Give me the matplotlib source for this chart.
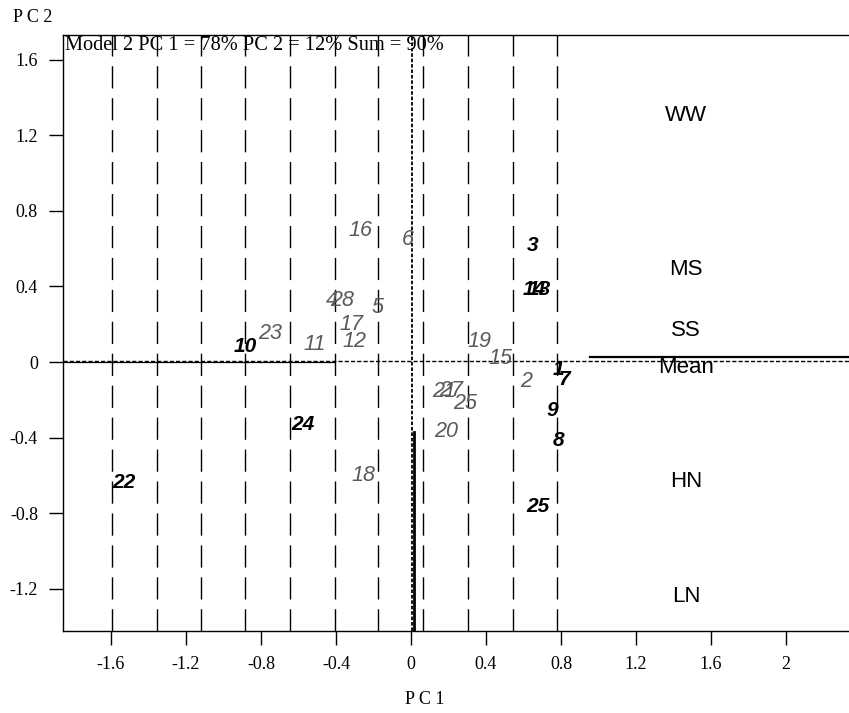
import matplotlib
matplotlib.use('Agg')
import matplotlib.pyplot as plt

# Genotype labels (grey italic group)
gray_labels = ['16', '6', '4', '28', '5', '23', '17', '12', '11',
               '19', '15', '2', '21', '27', '25', '20', '18']
gray_x = [-0.268, -0.019, -0.421, -0.368, -0.179, -0.752, -0.316, -0.304, -0.516,
          0.364, 0.477, 0.612, 0.176, 0.212, 0.288, 0.186, -0.254]
gray_y = [0.694, 0.646, 0.328, 0.323, 0.286, 0.153, 0.196, 0.107, 0.094,
          0.107, 0.016, -0.104, -0.157, -0.152, -0.222, -0.365, -0.602]

# Genotype labels (bold italic group)
bold_labels = ['10', '3', '14', '13', '1', '7', '9', '8', '24', '22', '25']
bold_x = [-0.885, 0.648, 0.655, 0.685, 0.784, 0.816, 0.755, 0.789, -0.576, -1.530, 0.677]
bold_y = [0.081, 0.619, 0.381, 0.381, -0.037, -0.090, -0.254, -0.413, -0.332, -0.638, -0.762]

# Environment labels
env_labels = ['WW', 'MS', 'SS', 'Mean', 'HN', 'LN']
env_x = [1.467, 1.467, 1.467, 1.467, 1.467, 1.467]
env_y = [1.302, 0.489, 0.169, -0.029, -0.630, -1.243]

# Vertical dashed lines
vline_x = [-1.595, -1.357, -1.121, -0.884, -0.644, -0.405, -0.174, 0.063, 0.303, 0.542, 0.777]

xticks = [-1.6, -1.2, -0.8, -0.4, 0, 0.4, 0.8, 1.2, 1.6, 2]
xtick_labels = ['-1.6', '-1.2', '-0.8', '-0.4', '0', '0.4', '0.8', '1.2', '1.6', '2']
yticks = [-1.2, -0.8, -0.4, 0, 0.4, 0.8, 1.2, 1.6]
ytick_labels = ['-1.2', '-0.8', '-0.4', '0', '0.4', '0.8', '1.2', '1.6']

title_text = 'Model 2 PC 1 = 78% PC 2 = 12% Sum = 90%'

fig = plt.figure(figsize=(8.49, 7.13), dpi=100)
ax = fig.add_axes([63 / 849, 82 / 713, 786 / 849, 596 / 713])
ax.set_xlim(-1.856, 2.336)
ax.set_ylim(-1.423, 1.730)

serif = 'Liberation Serif'
sans = 'Liberation Sans'

# dashed verticals
for xv in vline_x:
    ax.axvline(xv, color='black', lw=1.0, dashes=(16, 7))

# horizontal axis through origin
ax.axhline(0.007, color='black', lw=1.0, dashes=(3, 1.5))
ax.plot([-1.856, -0.41], [0.0, 0.0], color='black', lw=0.9)
ax.plot([0.955, 2.336], [0.026, 0.026], color='black', lw=1.6)

# vertical axis through origin
ax.axvline(0.003, color='black', lw=1.3, dashes=(2, 1))
ax.plot([0.015, 0.015], [-0.37, -1.423], color='black', lw=2.0)

for lab, x, y in zip(gray_labels, gray_x, gray_y):
    ax.text(x, y, lab, fontsize=15.5, style='italic', color='#5a5a5a',
            family=sans, ha='center', va='center')

for lab, x, y in zip(bold_labels, bold_x, bold_y):
    ax.text(x, y, lab, fontsize=15, style='italic', weight='bold', color='black',
            family=sans, ha='center', va='center')

for lab, x, y in zip(env_labels, env_x, env_y):
    ax.text(x, y, lab, fontsize=16, color='black', family=sans,
            ha='center', va='center')

ax.text(0.002, 0.983, title_text, transform=ax.transAxes, fontsize=14.7,
        family=serif, ha='left', va='center')

ax.set_xticks(xticks)
ax.set_xticklabels(xtick_labels, fontsize=13, family=serif)
ax.set_yticks(yticks)
ax.set_yticklabels(ytick_labels, fontsize=13, family=serif)
ax.tick_params(direction='out', length=10, width=1, pad=8)

ax.spines['right'].set_visible(False)
for s in ['left', 'bottom', 'top']:
    ax.spines[s].set_linewidth(1.0)

fig.text(13 / 849, 1 - 18 / 713, 'P C 2', fontsize=13, family=serif, ha='left', va='center')
fig.text(425 / 849, 1 - 699 / 713, 'P C 1', fontsize=13, family=serif, ha='center', va='center')

fig.savefig('out.png', dpi=100)
